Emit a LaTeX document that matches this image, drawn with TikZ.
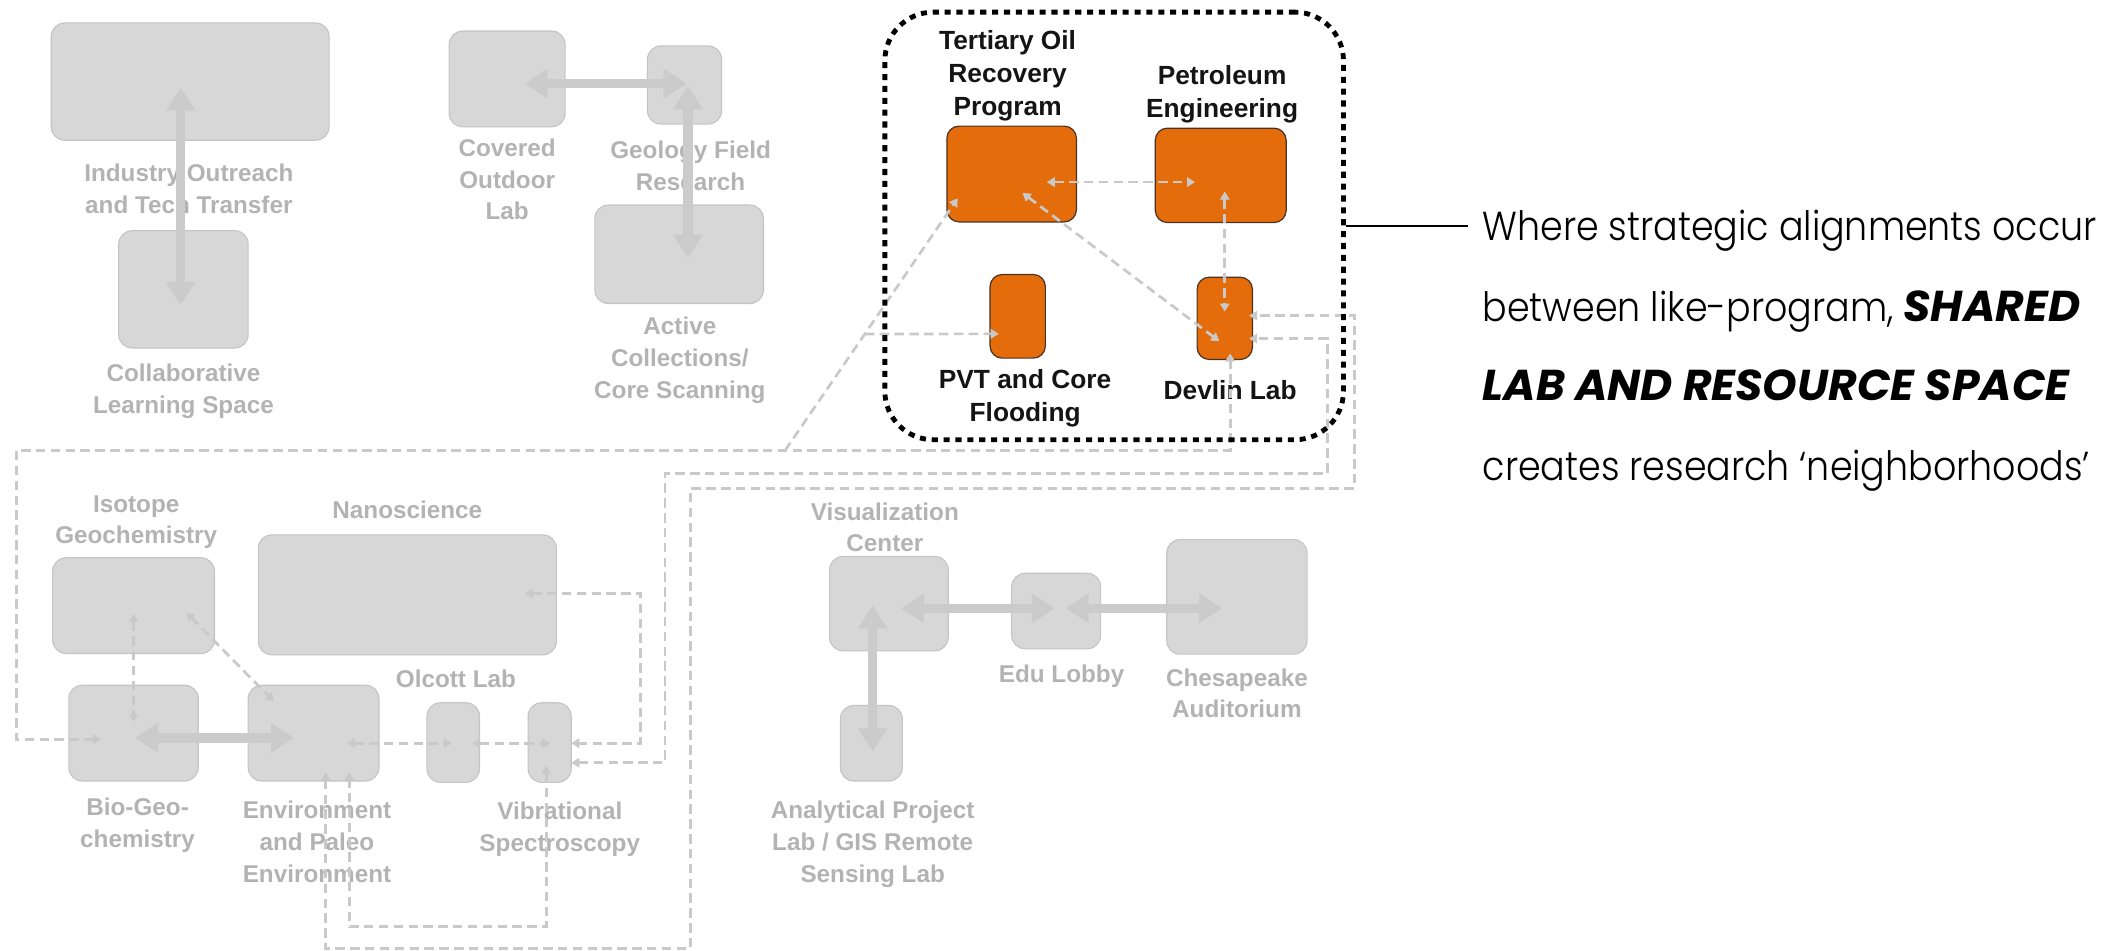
\documentclass[tikz,border=0pt]{standalone}
\usepackage{fontspec}
\setmainfont{Liberation Sans}
\newfontfamily\notelight[FakeStretch=0.9]{Poppins Light}
\newfontfamily\notebold[FakeStretch=1.02]{Poppins}
\usetikzlibrary{arrows.meta,calc}

\definecolor{boxfill}{HTML}{D7D7D7}
\definecolor{boxline}{HTML}{C4C4C4}
\definecolor{labgray}{HTML}{B3B3B3}
\definecolor{linkgray}{HTML}{C9C9C9}
\definecolor{thickgray}{HTML}{CBCBCB}
\definecolor{oilorange}{HTML}{E46C0A}
\definecolor{oilline}{HTML}{4A3325}

\begin{document}
\begin{tikzpicture}[x=1pt,y=-1pt,
  room/.style={draw=boxline, fill=boxfill, line width=0.8pt, rounded corners=10pt, inner sep=0pt},
  oilroom/.style={draw=oilline, fill=oilorange, line width=0.9pt, rounded corners=9pt, inner sep=0pt},
  glabel/.style={font=\bfseries\fontsize{18}{23.5}\selectfont, text=labgray, align=center, inner sep=0pt},
  blabel/.style={font=\bfseries\fontsize{19.5}{24.5}\selectfont, text=black!92, align=center, inner sep=0pt},
  notetext/.style={anchor=base west, inner sep=0pt, font=\notelight\fontsize{30}{32}\selectfont},
  noteemph/.style={font=\notebold\bfseries\itshape\fontsize{32}{34}\selectfont},
  thick link/.style={draw=thickgray, line width=7pt, {Triangle[width=21pt,length=17pt]}-{Triangle[width=21pt,length=17pt]}},
  link/.style={draw=linkgray, line width=2pt, dash pattern=on 7pt off 4pt},
  both/.style={{Triangle[width=7pt,length=6pt]}-{Triangle[width=7pt,length=6pt]}},
  fwd/.style={-{Triangle[width=7pt,length=6pt]}},
]
\useasboundingbox (0,0) rectangle (1568,705);

% ---- rooms ----
\node[room, minimum width=206pt, minimum height=87pt] (ind) at (141,60.5) {};
\node[room, minimum width=96pt,  minimum height=87pt] (col) at (136,214.5) {};
\node[room, minimum width=86pt,  minimum height=71pt] (cov) at (376,58.5) {};
\node[room, minimum width=55pt,  minimum height=58pt] (geo) at (507.5,63) {};
\node[room, minimum width=125pt, minimum height=73pt] (act) at (503.5,188.5) {};
\node[room, minimum width=120pt, minimum height=71pt] (iso) at (99,449) {};
\node[room, minimum width=221pt, minimum height=89pt] (nano) at (302,441) {};
\node[room, minimum width=96pt,  minimum height=71pt] (bio) at (99,543.5) {};
\node[room, minimum width=97pt,  minimum height=71pt] (env) at (232.5,543.5) {};
\node[room, minimum width=39pt,  minimum height=59pt] (olc) at (336,550.5) {};
\node[room, minimum width=32pt,  minimum height=59pt] (vib) at (407.5,550.5) {};
\node[room, minimum width=88pt,  minimum height=70pt] (vis) at (659,447.5) {};
\node[room, minimum width=66pt,  minimum height=56pt] (edu) at (783,453) {};
\node[room, minimum width=104pt, minimum height=85pt] (ches) at (917,442.5) {};
\node[room, minimum width=46pt,  minimum height=56pt] (ana) at (646,551) {};

\node[oilroom, minimum width=96pt, minimum height=71pt] (ter) at (750,129) {};
\node[oilroom, minimum width=97pt, minimum height=70pt] (pet) at (905,130) {};
\node[oilroom, minimum width=41pt, minimum height=62pt] (pvt) at (754.5,234.5) {};
\node[oilroom, minimum width=41pt, minimum height=61pt] (dev) at (908,236) {};

% ---- labels ----
\node[glabel] (indL) at (140,140) {Industry Outreach\\and Tech Transfer};
\node[glabel] (colL) at (136,290) {Collaborative\\Learning Space};
\node[glabel] (covL) at (376,133) {Covered\\Outdoor\\Lab};
\node[glabel] (geoL) at (512,123) {Geology Field\\Research};
\node[glabel] (actL) at (504,267) {Active\\Collections/\\Core Scanning};
\node[glabel] (isoL) at (101,387) {Isotope\\Geochemistry};
\node[glabel] (nanoL) at (302,378) {Nanoscience};
\node[glabel] (bioL) at (102,612) {Bio-Geo-\\chemistry};
\node[glabel] (envL) at (235,624) {Environment\\and Paleo\\Environment};
\node[glabel] (olcL) at (338,503) {Olcott Lab};
\node[glabel] (vibL) at (415,615) {Vibrational\\Spectroscopy};
\node[glabel] (visL) at (656,391) {Visualization\\Center};
\node[glabel] (eduL) at (787,501) {Edu Lobby};
\node[glabel] (chesL) at (917,514) {Chesapeake\\Auditorium};
\node[glabel] (anaL) at (647,626) {Analytical Project\\Lab / GIS Remote\\Sensing Lab};

\node[blabel] (terL) at (747,56) {Tertiary Oil\\Recovery\\Program};
\node[blabel] (petL) at (906,70) {Petroleum\\Engineering};
\node[blabel] (pvtL) at (760,295) {PVT and Core\\Flooding};
\node[blabel] (devL) at (912,289) {Devlin Lab};

% ---- solid circulation arrows ----
\draw[thick link] ([shift={(-7,4.5)}]ind.center) -- ([shift={(-2,11.5)}]col.center);
\draw[thick link] ([shift={(13,3.5)}]cov.center) -- ([shift={(1.5,-1)}]geo.center);
\draw[thick link] ([shift={(2.5,1)}]geo.center) -- ([shift={(6.5,2.5)}]act.center);
\draw[thick link] ([shift={(1,3.5)}]bio.center) -- ([shift={(-14.5,3.5)}]env.center);
\draw[thick link] ([shift={(9,3.5)}]vis.center) -- ([shift={(-1,-2)}]edu.center);
\draw[thick link] ([shift={(7,-2)}]edu.center) -- ([shift={(-11,8.5)}]ches.center);
\draw[thick link] ([shift={(-12,1.5)}]vis.center) -- ([shift={(1,6)}]ana.center);

% ---- dashed research links ----
\draw[link, both] ([shift={(26,6)}]ter.center) -- ([shift={(-19,5)}]pet.center);
\draw[link, both] ([shift={(3,12)}]pet.center) -- ([shift={(0,-5)}]dev.center);
\draw[link, both] ([shift={(8,14)}]ter.center) -- ([shift={(-4,17)}]dev.center);

\coordinate (hub) at (582,334);
\coordinate (terTip) at ([shift={(-40,18)}]ter.center);
\draw[link, fwd] (hub) -- (terTip);
\draw[link, fwd] ($(hub)!0.462!(terTip)$) -- ([shift={(-14,13)}]pvt.center);

\coordinate (w1) at (12,334);
\draw[link, both] ([shift={(-24,4.5)}]bio.center) -| (w1) -| ([shift={(4,26)}]dev.center);

\coordinate (s1) at (512,703);
\coordinate (s2) at (1004,362);
\draw[link, both] ([shift={(9,29)}]env.center) |- (s1) |- (s2) |- ([shift={(18,-2)}]dev.center);

\coordinate (r1) at (493,351);
\coordinate (r2) at (984,251);
\draw[link, both] ([shift={(16,15)}]vib.center) -| (r1) -| (r2) -- ([shift={(18,15)}]dev.center);

\coordinate (n1) at (475,551);
\draw[link, both] ([shift={(87,-1)}]nano.center) -| (n1) -- ([shift={(16,0.5)}]vib.center);

\coordinate (b1) at (259,687);
\draw[link, both] ([shift={(-2.5,17)}]vib.center) |- (b1) -- ([shift={(26.5,29)}]env.center);

\draw[link, both] ([shift={(0,6)}]iso.center) -- ([shift={(0,-8.5)}]bio.center);
\draw[link, both] ([shift={(39,5)}]iso.center) -- ([shift={(-29.5,-23.5)}]env.center);
\draw[link, both] ([shift={(24.5,7.5)}]env.center) -- ([shift={(-1,0.5)}]olc.center);
\draw[link, both] ([shift={(14,0.5)}]olc.center) -- ([shift={(0.5,0.5)}]vib.center);

% ---- shared-lab neighbourhood ----
\node[draw=black, line width=3.6pt, dash pattern=on 4.5pt off 4.3pt, rounded corners=36pt,
      minimum width=340pt, minimum height=317pt, inner sep=0pt] (nb) at (826,167.5) {};

\coordinate (noteEnd) at (1088,167.5);
\draw[line width=2pt] (nb.east) -- (noteEnd);

\node[notetext] (note1) at (1099,178) {Where strategic alignments occur};
\node[notetext] (note2) at (1099,238) {between like-program, {\notebold\bfseries\itshape\fontsize{32}{34}\selectfont SHARED}};
\node[notetext, noteemph] (note3) at (1099,297) {LAB AND RESOURCE SPACE};
\node[notetext] (note4) at (1099,356) {creates research ‘neighborhoods’};
\end{tikzpicture}
\end{document}
